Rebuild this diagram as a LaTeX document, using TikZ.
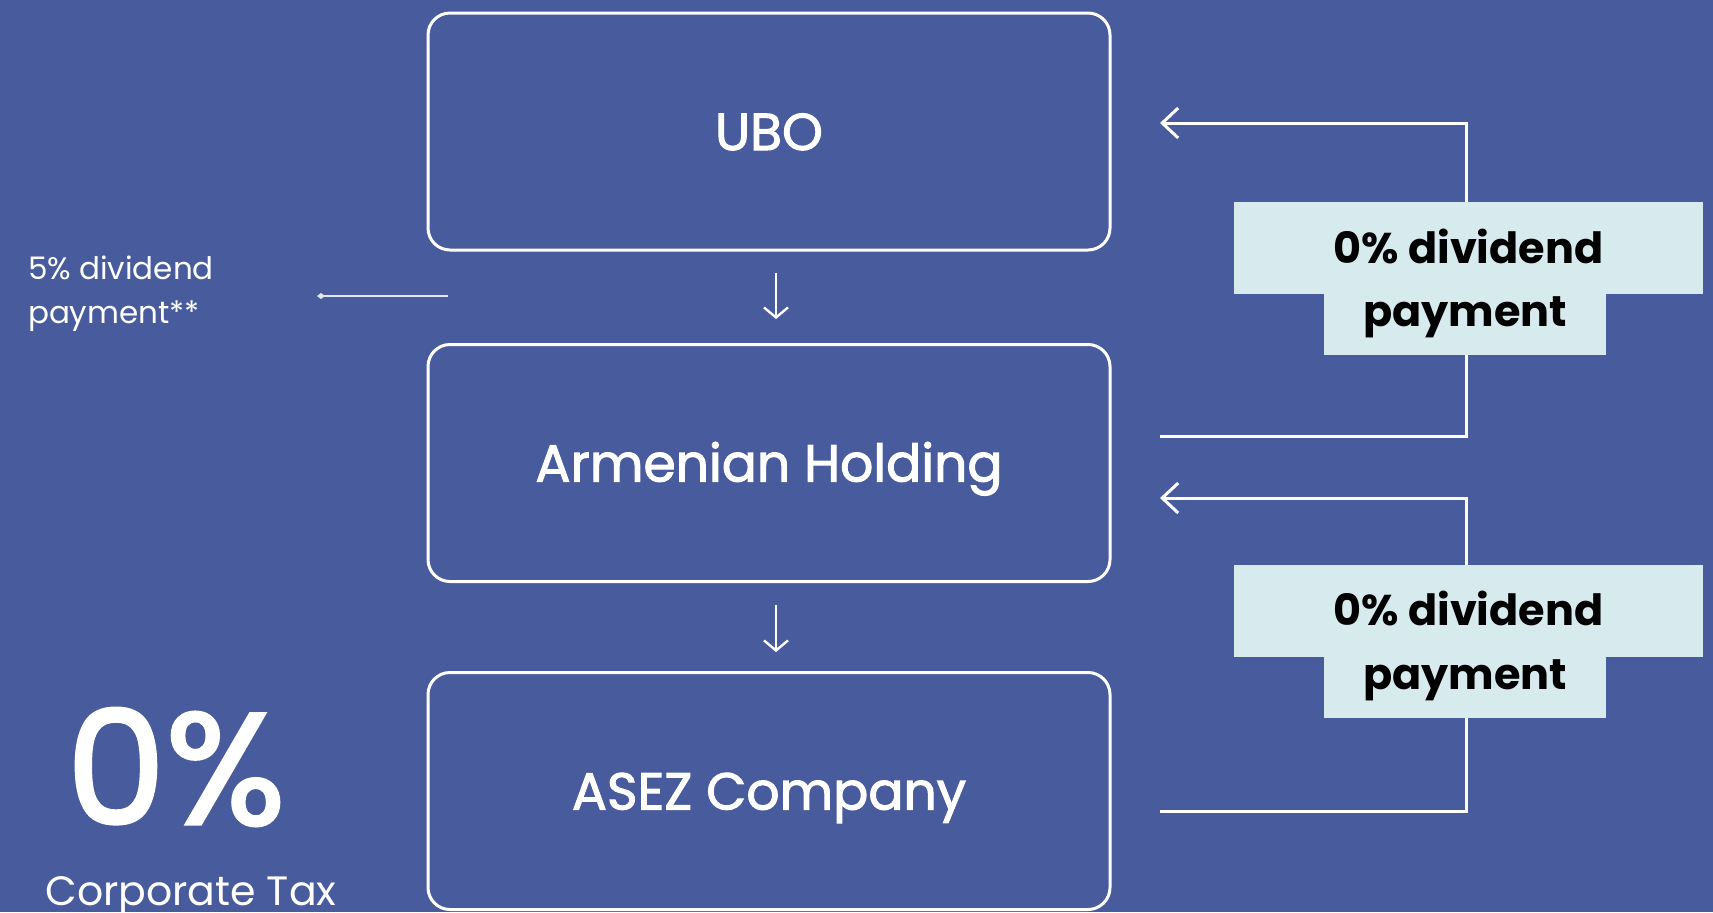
\documentclass[tikz,border=0pt]{standalone}
\usepackage{fontspec}
\setmainfont{Poppins}
\newfontfamily\mediumfont{Poppins}[FakeBold=2]
\usepackage{tikz}
\usetikzlibrary{arrows.meta}

\definecolor{bgblue}{RGB}{72,91,156}
\definecolor{paylight}{RGB}{215,234,237}

\tikzset{
  entity/.style={draw=white, line width=1.5pt, rounded corners=11pt, minimum width=341pt, minimum height=118.5pt, inner sep=0pt, text height=18.5pt, text depth=0pt, text=white, font=\mediumfont\fontsize{26}{32}\selectfont},
  paytop/.style={fill=paylight, inner sep=0pt, minimum width=234.5pt, minimum height=46pt, text height=17pt, text depth=1.6pt, text=black, font=\bfseries\fontsize{21.5}{26}\selectfont},
  paybot/.style={fill=paylight, inner sep=0pt, minimum width=141pt, minimum height=30.5pt, text height=14pt, text depth=12pt, text=black, font=\bfseries\fontsize{21.5}{26}\selectfont},
  flowback/.style={draw=white, line width=1.5pt, -{Straight Barb[length=8pt,width=15pt,line width=1.5pt]}},
  flowdown/.style={draw=white, line width=1.2pt, -{Straight Barb[length=5pt,width=12pt,line width=1.2pt]}},
  sideline/.style={draw=white!85!bgblue, line width=1pt, -{Diamond[length=4pt,width=3pt]}}
}

\begin{document}
\begin{tikzpicture}[x=0.5pt,y=0.5pt,yscale=-1,xscale=1]
\useasboundingbox (0,0) rectangle (1713,912);
\fill[bgblue] (0,0) rectangle (1713,912);

%Shape: Rounded Rect
\node[entity] (ubo) at (769,131.5) {UBO};
%Shape: Rounded Rect
\node[entity] (holding) at (769,463) {Armenian Holding};
%Shape: Rounded Rect
\node[entity] (asez) at (769,791) {ASEZ Company};

%Straight Lines
\draw[flowdown] ([xshift=3.5pt,yshift=10.5pt]ubo.south) -- ([xshift=3.5pt,yshift=-12pt]holding.north);
%Straight Lines
\draw[flowdown] ([xshift=3.5pt,yshift=11pt]holding.south) -- ([xshift=3.5pt,yshift=-9.5pt]asez.north);

%Straight Lines
\coordinate (sidefrom) at (448,296);
\coordinate (sideto) at (317,296);
\draw[sideline] (sidefrom) -- (sideto);

%Straight Lines
\coordinate (back1from) at (1160,436);
\coordinate (back1turn) at (1466,436);
\coordinate (back1to) at (1160,123);
\draw[flowback] (back1from) -- (back1turn) |- (back1to);
%Straight Lines
\coordinate (back2from) at (1160,811);
\coordinate (back2turn) at (1466,811);
\coordinate (back2to) at (1160,498);
\draw[flowback] (back2from) -- (back2turn) |- (back2to);

% Text Node
\node[paytop] (pay1a) at (1468.5,248) {0\% dividend};
\node[paybot] (pay1b) at (1465,324.5) {payment};
% Text Node
\node[paytop] (pay2a) at (1468.5,610.5) {0\% dividend};
\node[paybot] (pay2b) at (1465,687) {payment};

% Text Node
\node[anchor=west, align=left, text=white, font=\fontsize{15.5}{22}\selectfont] (tax5) at (21,294) {5\% dividend\\payment**};
% Text Node
\node[inner sep=0pt, text=white, font=\mediumfont\fontsize{79}{79}\selectfont] (zero) at (176,767) {0\%};
% Text Node
\node[anchor=base, inner sep=0pt, text=white, font=\fontsize{20.5}{24}\selectfont] (corptax) at (191,905) {Corporate Tax};

\end{tikzpicture}
\end{document}
